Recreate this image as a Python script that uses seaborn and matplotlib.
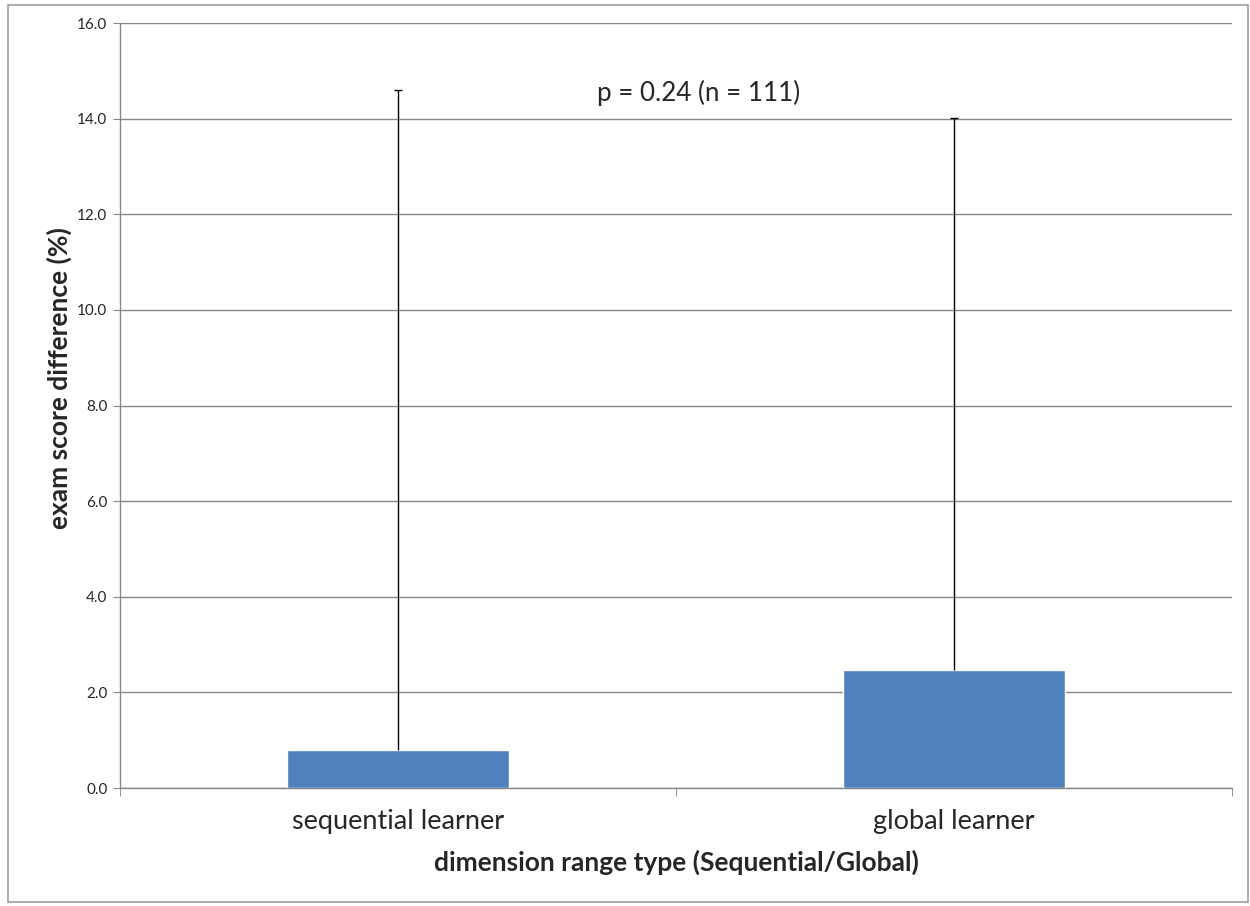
import matplotlib
matplotlib.use("Agg")
import matplotlib.pyplot as plt
import matplotlib.patches as mpatches
import seaborn as sns
import pandas as pd

# dados do gráfico
categorias = ["sequential learner", "global learner"]
medias = [0.80, 2.47]
erro_sup = [13.80, 11.55]
anotacao = "p = 0.24 (n = 111)"

df = pd.DataFrame({"tipo": categorias, "diff": medias})

sns.set_style("white")
plt.rcParams["font.family"] = ["Lato", "DejaVu Sans"]

fig = plt.figure(figsize=(12.5, 9.06), dpi=100)
ax = fig.add_axes([0.096, 0.1302, 0.8896, 0.8444])

sns.barplot(data=df, x="tipo", y="diff", color="#4F81BD", width=0.4,
            errorbar=None, saturation=1, ax=ax, zorder=3)

# barras de erro só para cima (sem traço na base)
ax.errorbar(range(len(categorias)), medias, yerr=[[0] * len(erro_sup), erro_sup],
            fmt="none", ecolor="black", elinewidth=1, capsize=0, zorder=4)
topos = [m + e for m, e in zip(medias, erro_sup)]
ax.scatter(range(len(categorias)), topos, marker="_", s=40, color="black",
           linewidths=1, zorder=4)

ax.set_ylim(0, 16)
ax.set_xlim(-0.5, 1.5)
ax.set_yticks([0, 2, 4, 6, 8, 10, 12, 14, 16])
ax.set_yticklabels([f"{v:.1f}" for v in ax.get_yticks()], fontsize=11)
ax.yaxis.grid(True, color="#868686", linewidth=1, zorder=0)
ax.set_axisbelow(True)

ax.tick_params(axis="y", length=5, color="#868686", left=True, pad=4)
ax.tick_params(axis="x", which="major", length=0, labelsize=19.5, pad=15)
ax.set_xticks([-0.5, 0.5, 1.5], minor=True)
ax.tick_params(axis="x", which="minor", length=6, color="#868686", bottom=True)

for s in ["top", "right"]:
    ax.spines[s].set_visible(False)
for s in ["left", "bottom"]:
    ax.spines[s].set_color("#868686")
    ax.spines[s].set_linewidth(1)

ax.set_xlabel("dimension range type (Sequential/Global)", fontsize=19, fontweight="bold")
ax.set_ylabel("exam score difference (%)", fontsize=19, fontweight="bold")
ax.xaxis.set_label_coords(0.5, -0.0967)
ax.xaxis.label.set_verticalalignment("center")
ax.yaxis.set_label_coords(-0.055, 0.536)
ax.yaxis.label.set_verticalalignment("center")

ax.text(0.52, 0.909, anotacao, transform=ax.transAxes, fontsize=18.7,
        ha="center", va="center")

# moldura externa estilo Excel
fig.patches.append(mpatches.Rectangle((0.006, 0.004), 0.992, 0.99, transform=fig.transFigure,
                                      fill=False, edgecolor="#A0A0A0", linewidth=1.2))

fig.savefig("out.png", dpi=100)
